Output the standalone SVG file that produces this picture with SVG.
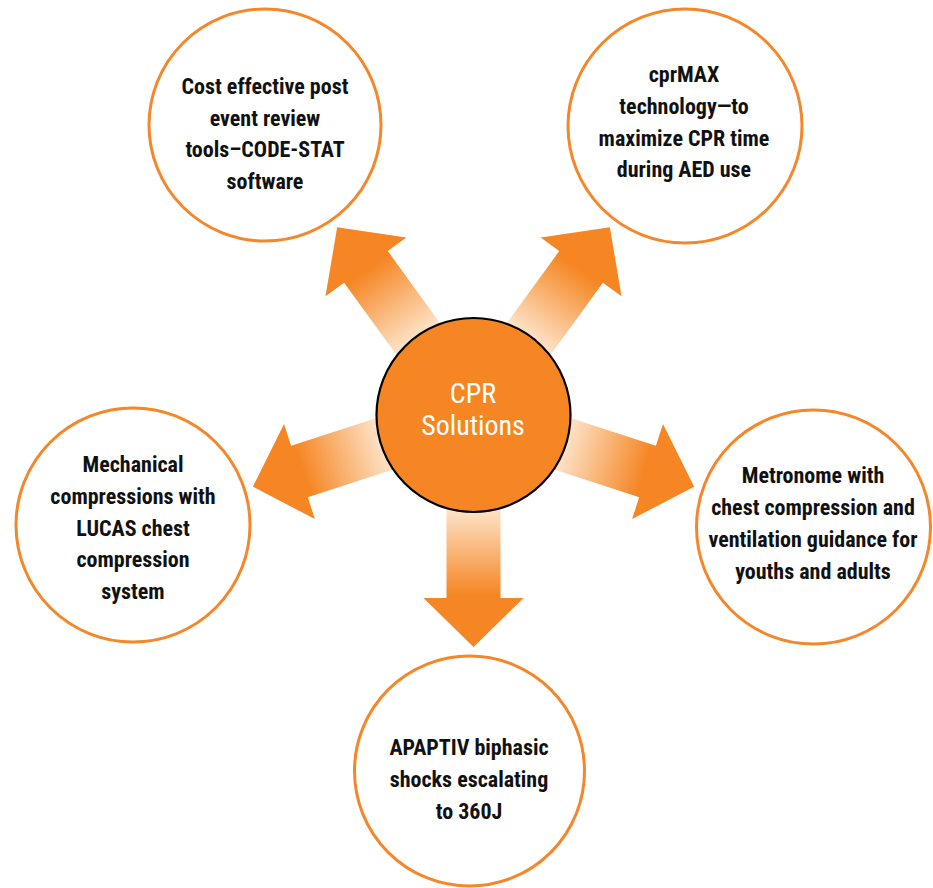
<svg xmlns="http://www.w3.org/2000/svg" width="933" height="888" viewBox="0 0 933 888">
<defs>
<style>
.outer{fill:#fff;stroke:#f5862a;stroke-width:3}
.hub{fill:#f58623;stroke:#000;stroke-width:2.2}
.lbl{font-family:"Liberation Sans Narrow","Roboto Condensed","Liberation Sans",sans-serif;font-weight:bold;font-size:22px;fill:#111;text-anchor:middle}
.hubt{font-family:"Liberation Sans Narrow","Roboto Condensed","Liberation Sans",sans-serif;font-size:28px;fill:#fff;text-anchor:middle}
.arrow{fill:url(#g)}
</style>
<linearGradient id="g" gradientUnits="userSpaceOnUse" x1="96" y1="0" x2="180" y2="0">
<stop offset="0" stop-color="#fde2c6"/>
<stop offset="1" stop-color="#f58623"/>
</linearGradient>
<path id="arr" d="M0,-27 L183,-27 L183,-50 L232,0 L183,50 L183,27 L0,27 Z"/>
</defs>
<rect width="933" height="888" fill="#fff"/>
<g id="connectors">
<use href="#arr" class="arrow" transform="translate(473.5,415) rotate(90)"/>
<use href="#arr" class="arrow" transform="translate(473.5,415) rotate(162)"/>
<use href="#arr" class="arrow" transform="translate(473.5,415) rotate(234)"/>
<use href="#arr" class="arrow" transform="translate(473.5,415) rotate(306)"/>
<use href="#arr" class="arrow" transform="translate(473.5,415) rotate(18)"/>
</g>
<g id="hub">
<circle class="hub" cx="473.5" cy="415" r="97"/>
<text class="hubt" x="473" y="403">CPR</text>
<text class="hubt" x="473" y="435">Solutions</text>
</g>
<g id="node-review">
<circle class="outer" cx="265" cy="125" r="116"/>
<text class="lbl" x="265" y="94">Cost effective post</text>
<text class="lbl" x="265" y="125.5">event review</text>
<text class="lbl" x="265" y="157">tools–CODE-STAT</text>
<text class="lbl" x="265" y="189">software</text>
</g>
<g id="node-cprmax">
<circle class="outer" cx="685" cy="126" r="117"/>
<text class="lbl" x="684" y="82">cprMAX</text>
<text class="lbl" x="684" y="113.5">technology—to</text>
<text class="lbl" x="684" y="145.5">maximize CPR time</text>
<text class="lbl" x="684" y="177">during AED use</text>
</g>
<g id="node-lucas">
<circle class="outer" cx="133" cy="525" r="117"/>
<text class="lbl" x="133" y="472">Mechanical</text>
<text class="lbl" x="133" y="503.5">compressions with</text>
<text class="lbl" x="133" y="535.5">LUCAS chest</text>
<text class="lbl" x="133" y="567">compression</text>
<text class="lbl" x="133" y="599">system</text>
</g>
<g id="node-metronome">
<circle class="outer" cx="813.5" cy="527" r="117"/>
<text class="lbl" x="813" y="483">Metronome with</text>
<text class="lbl" x="813" y="515">chest compression and</text>
<text class="lbl" x="813" y="547">ventilation guidance for</text>
<text class="lbl" x="813" y="579">youths and adults</text>
</g>
<g id="node-apaptiv">
<circle class="outer" cx="469.5" cy="771" r="115"/>
<text class="lbl" x="469" y="755">APAPTIV biphasic</text>
<text class="lbl" x="469" y="787">shocks escalating</text>
<text class="lbl" x="469" y="819">to 360J</text>
</g>
</svg>
